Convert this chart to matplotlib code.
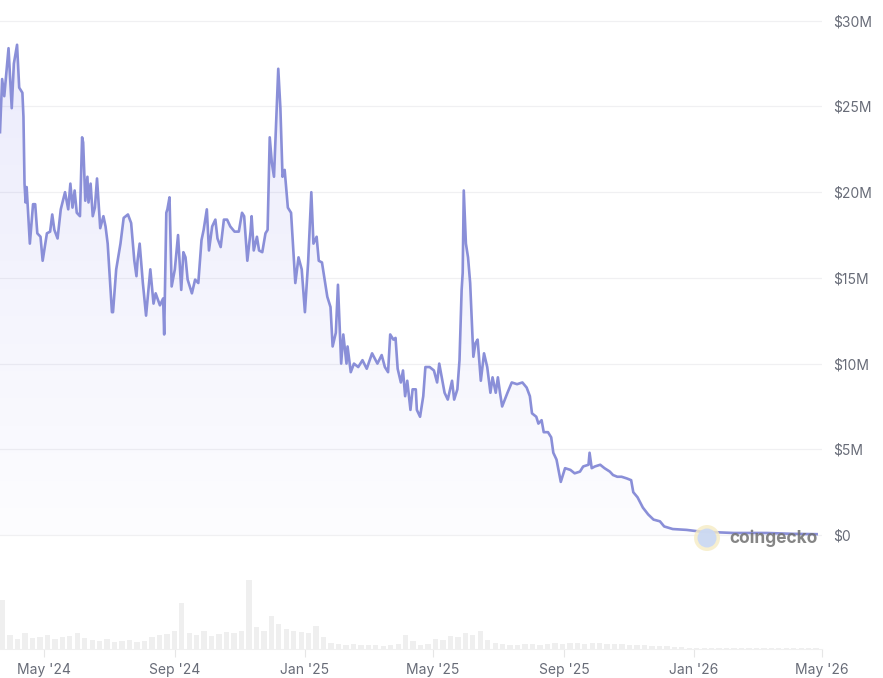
import numpy as np
import matplotlib
matplotlib.use('Agg')
import matplotlib.pyplot as plt
import matplotlib.dates as mdates
from matplotlib.patches import PathPatch, Ellipse

plt.rcParams['font.family'] = ['Inter', 'DejaVu Sans']

START = np.datetime64('2024-03-21')
END = np.datetime64('2026-05-01')

# market cap, $M (days since START)
days = [0, 2, 4, 8, 11, 13, 16, 18, 21, 22, 23, 24, 25, 28, 31, 33, 35, 38, 40, 44,
        47, 49, 51, 54, 57, 59, 61, 64, 66, 68, 70, 72, 75, 77, 78, 80, 82, 83, 85, 87,
        89, 91, 94, 97, 99, 101, 105, 106, 109, 113, 116, 120, 123, 126, 128, 129, 131, 134, 137, 141,
        144, 146, 150, 153, 154, 156, 157, 159, 161, 164, 167, 170, 172, 174, 176, 180, 183, 186, 189, 191,
        194, 196, 199, 202, 204, 207, 210, 213, 216, 220, 224, 227, 229, 232, 235, 236, 238, 241, 243, 246,
        249, 251, 253, 255, 257, 261, 263, 265, 267, 270, 273, 277, 280, 283, 286, 289, 292, 294, 297, 299,
        302, 307, 310, 312, 315, 317, 320, 322, 325, 326, 329, 332, 336, 340, 344, 349, 354, 358, 361, 364,
        366, 369, 371, 373, 376, 378, 380, 382, 385, 387, 390, 391, 394, 397, 399, 403, 407, 410, 412, 415,
        417, 420, 424, 426, 429, 431, 433, 434, 435, 437, 439, 441, 444, 446, 448, 451, 454, 457, 460, 462,
        465, 467, 469, 471, 476, 480, 485, 490, 494, 497, 499, 503, 505, 508, 510, 514, 517, 519, 522, 526,
        530, 535, 539, 544, 547, 552, 553, 555, 558, 563, 567, 572, 575, 579, 583, 588, 592, 594, 598, 603,
        608, 613, 619, 623, 631, 644, 657, 688, 719, 744, 766]
mcap = [23.5, 26.6, 25.6, 28.4, 24.9, 27.5, 28.6, 26.1, 25.8, 24.4, 20.5, 19.4, 20.3, 17.0, 19.3, 19.3, 17.6, 17.4, 16.0, 17.6,
        17.7, 18.7, 17.8, 17.3, 19.0, 19.5, 20.0, 19.0, 20.5, 19.1, 20.1, 18.8, 18.6, 23.2, 22.9, 19.5, 20.9, 19.4, 20.5, 18.6,
        19.1, 20.8, 17.9, 18.6, 18.0, 17.0, 13.0, 13.0, 15.5, 17.0, 18.5, 18.7, 18.2, 16.0, 15.1, 16.0, 17.0, 14.7, 12.8, 15.5,
        13.5, 14.1, 13.4, 13.8, 11.7, 18.8, 19.0, 19.7, 14.5, 15.5, 17.5, 14.3, 16.5, 16.2, 14.9, 14.1, 14.9, 14.7, 17.2, 17.8,
        19.0, 16.6, 18.0, 18.4, 17.3, 16.8, 18.4, 18.4, 18.0, 17.7, 17.7, 18.8, 18.6, 16.0, 17.7, 18.6, 16.6, 17.4, 16.6, 16.5,
        17.6, 17.8, 23.2, 21.7, 20.9, 27.2, 24.9, 20.9, 21.3, 19.1, 18.8, 14.7, 16.2, 15.5, 13.0, 15.9, 20.0, 17.0, 17.4, 16.0,
        15.9, 13.9, 13.3, 11.0, 11.8, 14.6, 10.0, 11.7, 10.0, 11.0, 9.5, 10.0, 9.8, 10.2, 9.7, 10.6, 10.0, 10.5, 9.8, 9.5,
        11.7, 11.4, 11.5, 9.7, 8.9, 9.6, 8.1, 9.0, 7.3, 8.5, 8.5, 7.3, 6.9, 8.1, 9.8, 9.8, 9.6, 8.9, 10.0, 9.0,
        8.3, 7.9, 9.0, 7.9, 8.5, 10.2, 14.3, 15.3, 20.1, 17.0, 16.2, 14.7, 10.4, 11.2, 11.4, 9.0, 10.6, 9.8, 8.3, 9.2,
        8.3, 9.2, 8.3, 7.5, 8.3, 8.9, 8.8, 8.9, 8.6, 8.1, 7.1, 6.9, 6.5, 6.7, 6.0, 6.0, 5.7, 4.8, 4.4, 3.1,
        3.9, 3.8, 3.6, 3.7, 4.0, 4.1, 4.8, 3.9, 4.0, 4.1, 3.9, 3.7, 3.5, 3.4, 3.4, 3.3, 3.2, 2.5, 2.2, 1.6,
        1.2, 0.9, 0.8, 0.5, 0.35, 0.3, 0.2, 0.12, 0.12, 0.07, 0.05]

# weekly trading volume, $M
vol = [2.45, 0.7, 0.5, 0.8, 0.55, 0.6, 0.7, 0.5, 0.6, 0.65,
       0.8, 0.55, 0.45, 0.4, 0.5, 0.35, 0.4, 0.45, 0.35, 0.4,
       0.6, 0.7, 0.75, 0.9, 2.3, 0.8, 0.7, 0.9, 0.65, 0.75,
       0.85, 0.8, 0.9, 3.45, 1.1, 0.9, 1.65, 1.25, 1.0, 0.9,
       0.85, 0.8, 1.15, 0.6, 0.3, 0.25, 0.2, 0.25, 0.2, 0.2,
       0.2, 0.15, 0.2, 0.25, 0.7, 0.4, 0.2, 0.25, 0.5, 0.45,
       0.65, 0.6, 0.8, 0.7, 0.9, 0.45, 0.3, 0.25, 0.2, 0.2,
       0.25, 0.25, 0.2, 0.25, 0.3, 0.25, 0.3, 0.3, 0.25, 0.3,
       0.3, 0.25, 0.25, 0.25, 0.2, 0.2, 0.2, 0.15, 0.15, 0.15,
       0.1, 0.1, 0.05, 0.05, 0.05, 0.05, 0.05, 0.05, 0.05, 0.05,
       0.05, 0.05, 0.05, 0.05, 0.05, 0.05, 0.05, 0.05, 0.05, 0.05]

tick_dates = ['2024-05-01', '2024-09-01', '2025-01-01', '2025-05-01',
              '2025-09-01', '2026-01-01', '2026-05-01']
tick_labels = ["May '24", "Sep '24", "Jan '25", "May '25", "Sep '25", "Jan '26", "May '26"]
y_ticks = [0, 5, 10, 15, 20, 25, 30]
y_labels = ['$0', '$5M', '$10M', '$15M', '$20M', '$25M', '$30M']

LINE = '#8a8fd8'
TXT = '#686c78'

dates = START + np.array(days).astype('timedelta64[D]')
vdates = START + (np.arange(len(vol)) * 7).astype('timedelta64[D]')
x0, x1 = mdates.date2num(START), mdates.date2num(END)

fig = plt.figure(figsize=(8.83, 6.78), dpi=100)
ax = fig.add_axes([0, 0.1962, 0.9309, 0.7891])
ax2 = fig.add_axes([0, 0.0428, 0.9309, 0.1165])

# price area
ax.set_xlim(x0, x1)
ax.set_ylim(-0.58, 30.63)
ax.plot(dates, mcap, color=LINE, lw=1.9, zorder=4, solid_joinstyle='round')
poly = ax.fill_between(dates, mcap, 0, color='none')
path = poly.get_paths()[0]
patch = PathPatch(path, transform=ax.transData, facecolor='none', edgecolor='none')
ax.add_patch(patch)
grad = np.zeros((256, 1, 4))
grad[:, 0, 0] = 0.52
grad[:, 0, 1] = 0.52
grad[:, 0, 2] = 0.92
grad[:, 0, 3] = np.linspace(0.17, 0.02, 256)
im = ax.imshow(grad, aspect='auto', extent=[x0, x1, 0, 30.63], origin='upper', zorder=2)
im.set_clip_path(patch)

ax.set_yticks(y_ticks)
ax.set_yticklabels(y_labels)
ax.yaxis.tick_right()
ax.tick_params(axis='y', length=0, pad=8, labelsize=10, labelcolor=TXT)
ax.tick_params(axis='x', bottom=False, labelbottom=False)
ax.grid(axis='y', color='#f0f0f2', lw=0.9, zorder=0)
for s in ax.spines.values():
    s.set_visible(False)

# volume
ax2.bar(vdates, vol, width=5, align='edge', color='#efefef', linewidth=0)
ax2.set_xlim(x0, x1)
ax2.set_ylim(0, 3.95)
ax2.set_yticks([])
ax2.set_xticks([mdates.date2num(np.datetime64(d)) for d in tick_dates])
ax2.set_xticklabels(tick_labels)
ax2.tick_params(axis='x', length=6, color='#e6e6e6', labelsize=10, labelcolor=TXT, pad=4)
for k in ['top', 'left', 'right']:
    ax2.spines[k].set_visible(False)
ax2.spines['bottom'].set_color('#f0f0f0')
ax2.patch.set_alpha(0)

# watermark
fig.add_artist(Ellipse((0.8007, 0.2065), 26 / 883, 26 / 678, transform=fig.transFigure,
                       facecolor='#f6ecc4', edgecolor='none', alpha=0.8, zorder=5))
fig.add_artist(Ellipse((0.8007, 0.2065), 19 / 883, 19 / 678, transform=fig.transFigure,
                       facecolor='#c9d8f6', edgecolor='none', alpha=0.9, zorder=5))
fig.text(0.826, 0.2065, 'coingecko', fontsize=12.5, fontweight='bold', color='#707070',
         alpha=0.85, va='center', ha='left', zorder=6)

fig.savefig('out.png', dpi=100)
